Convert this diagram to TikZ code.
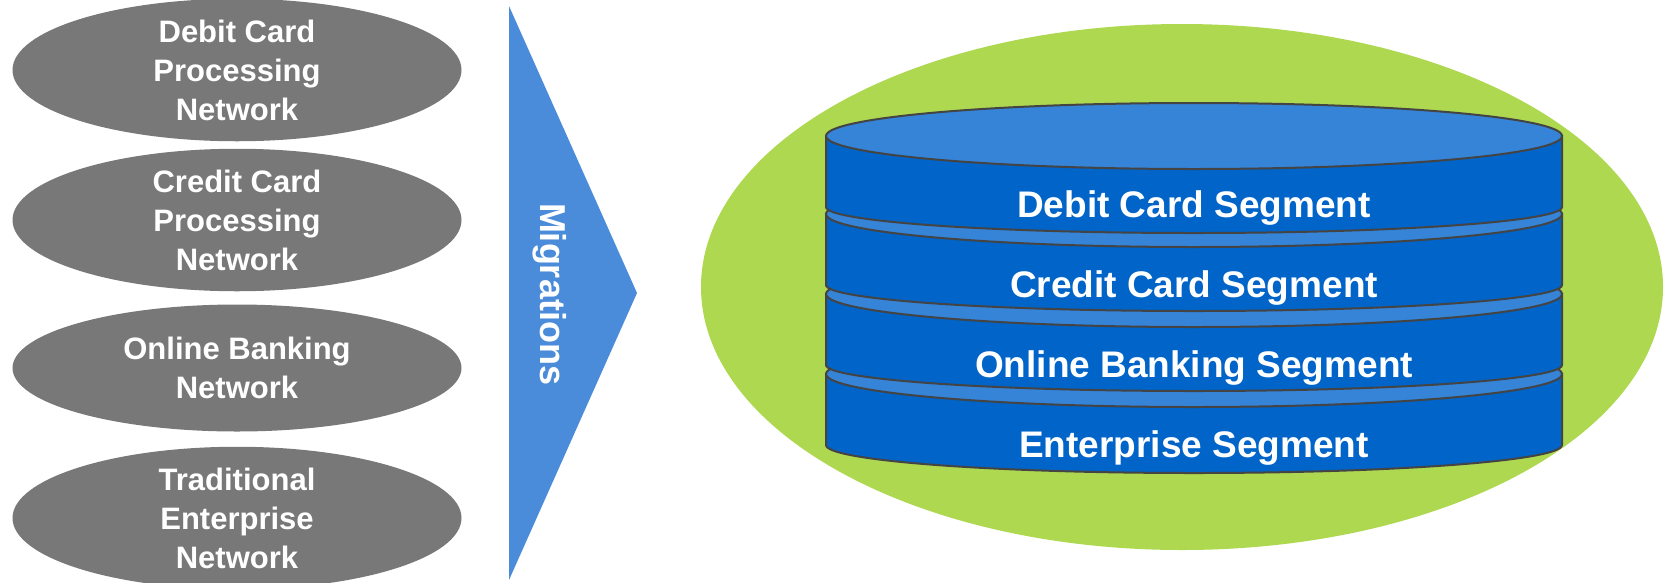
\documentclass[tikz,border=0pt]{standalone}
\usepackage{fontspec}
\setmainfont{Liberation Sans}
\usetikzlibrary{shapes.geometric}

\definecolor{netgray}{RGB}{120,120,120}
\definecolor{migblue}{RGB}{74,139,218}
\definecolor{poolgreen}{RGB}{173,216,80}
\definecolor{segdark}{RGB}{0,100,200}
\definecolor{seglight}{RGB}{53,132,216}
\definecolor{segline}{RGB}{68,68,68}

\begin{document}
\begin{tikzpicture}
[
    x=1pt, y=-1pt,
    network/.style={ellipse, fill=netgray, minimum width=449pt, minimum height=127pt, inner sep=0pt,
        text=white, align=center, font=\bfseries\fontsize{31}{39}\selectfont},
    pool/.style={ellipse, fill=poolgreen, minimum width=962pt, minimum height=526pt},
    segbody/.style={fill=segdark, draw=segline, line width=2pt},
    segtop/.style={fill=seglight, draw=segline, line width=2pt},
    seglabel/.style={text=white, font=\bfseries\fontsize{37}{40}\selectfont},
]
\useasboundingbox (0,0) rectangle (1664,582);

% old networks
\node [network] (debitnet) at (237,70) {Debit Card\\Processing\\Network};
\node [network] (creditnet) at (237,220) {Credit Card\\Processing\\Network};
\node [network] (onlinenet) at (237,368) {Online Banking\\Network};
\node [network] (enternet) at (237,518) {Traditional\\Enterprise\\Network};

% migration arrow
\fill [migblue] (509,6) -- (637,293) -- (509,580) -- cycle;
\node [rotate=-90, text=white, font=\bfseries\fontsize{36}{40}\selectfont] (migr) at (550,294) {Migrations};

% segmented network
\node [pool] (pool) at (1182,287) {};
\foreach \y/\d in {374/28,294/26,214/26,136/26}
{
    \filldraw [segbody] (826,\y) -- (826,\y+71)
        arc [start angle=180, end angle=0, x radius=368, y radius=\d] -- (1562,\y) -- cycle;
    \filldraw [segtop] (1194,\y) ellipse [x radius=368, y radius=33];
}
\node [seglabel] (debitseg) at (1194,208) {Debit Card Segment};
\node [seglabel] (creditseg) at (1194,288) {Credit Card Segment};
\node [seglabel] (onlineseg) at (1194,368) {Online Banking Segment};
\node [seglabel] (enterseg) at (1194,448) {Enterprise Segment};
\end{tikzpicture}
\end{document}
